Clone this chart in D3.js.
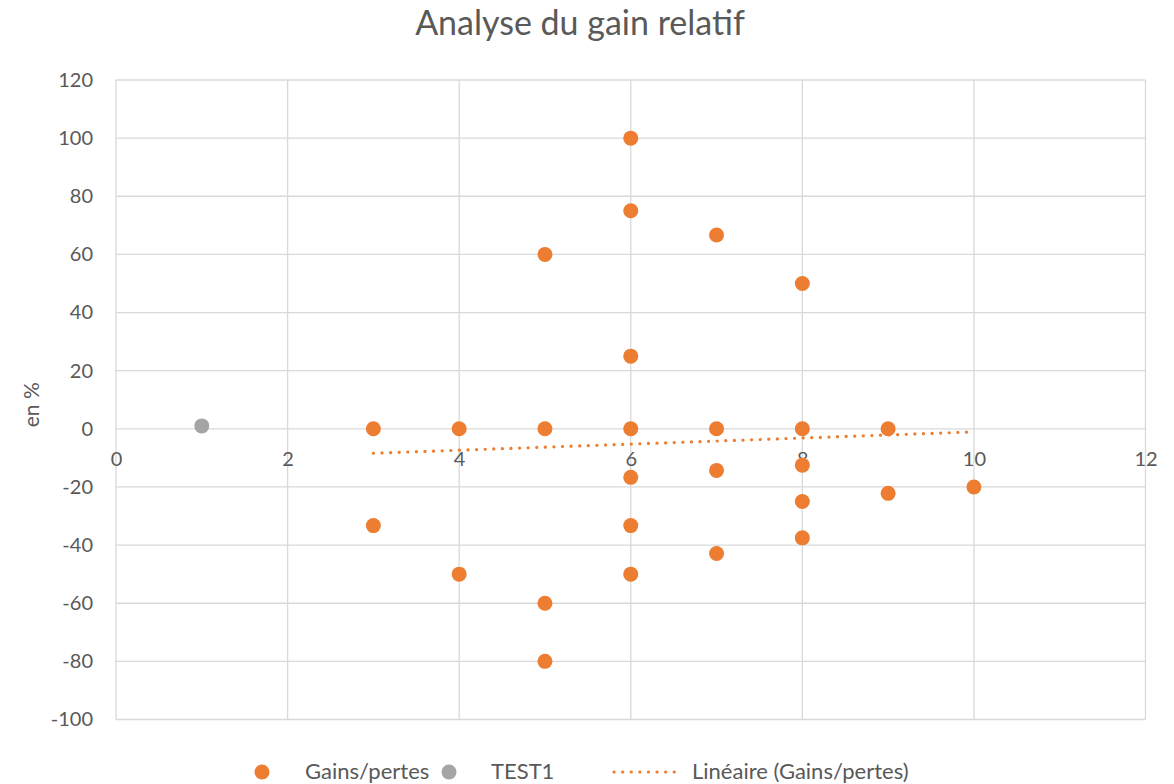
<!DOCTYPE html>
<html><head><meta charset="utf-8">
<script src="https://cdn.jsdelivr.net/npm/d3@7"></script>
<style>body{margin:0;background:#fff;} text{font-family:Lato,"Open Sans",sans-serif;}</style>
</head><body><svg id="c" width="1174" height="784"></svg>
<script>
const title = "Analyse du gain relatif";
const yLabel = "en %";
const gainsX = [3,3,4,4,5,5,5,5,6,6,6,6,6,6,6,7,7,7,7,8,8,8,8,8,9,9,10];
const gainsY = [0,-33.3,0,-50,60,0,-60,-80,100,75,25,0,-16.7,-33.3,-50,66.7,0,-14.3,-42.9,50,0,-12.5,-25,-37.5,0,-22.2,-20];
const testX = [1];
const testY = [1];
const trendX = [3, 10];
const trendY = [-8.4, -1.05];
const xTicks = [0,2,4,6,8,10,12];
const yTicks = [-100,-80,-60,-40,-20,0,20,40,60,80,100,120];
const legendLabels = ["Gains/pertes","TEST1","Linéaire (Gains/pertes)"];

const svg = d3.select("#c");
const L=116, R=1145.5, T=80, B=719.5;
const x = d3.scaleLinear().domain([0,12]).range([L,R]);
const y = d3.scaleLinear().domain([-100,120]).range([B,T]);
const grid="#d9d9d9", txt="#595959", orange="#ed7d31", gray="#a5a5a5";
const ff = "Lato,'Open Sans',sans-serif";

// gridlines
svg.append("g").selectAll("line").data(yTicks).join("line")
  .attr("x1",L).attr("x2",R).attr("y1",d=>y(d)).attr("y2",d=>y(d))
  .attr("stroke",grid).attr("stroke-width",1.3);
svg.append("g").selectAll("line").data(xTicks).join("line")
  .attr("x1",d=>x(d)).attr("x2",d=>x(d)).attr("y1",T).attr("y2",B)
  .attr("stroke",grid).attr("stroke-width",1.3);

// y tick labels
const yAxis = d3.axisLeft(y).tickValues(yTicks).tickSize(0).tickPadding(23).tickFormat(d=>String(d));
const gy = svg.append("g").attr("transform",`translate(${L},0)`).call(yAxis);
gy.select(".domain").remove();
gy.selectAll("text").attr("fill",txt).style("font-size","20px").style("font-family",ff);

// x tick labels (at y=0 line)
const xAxis = d3.axisBottom(x).tickValues(xTicks).tickSize(0).tickPadding(23).tickFormat(d=>String(d));
const gx = svg.append("g").attr("transform",`translate(0,${y(0)})`).call(xAxis);
gx.select(".domain").remove();
gx.selectAll("text").attr("fill",txt).style("font-size","20px").style("font-family",ff);

// trendline
svg.append("path").datum(trendX.map((d,i)=>[d,trendY[i]]))
  .attr("d",d3.line().x(d=>x(d[0])).y(d=>y(d[1])))
  .attr("fill","none").attr("stroke",orange).attr("stroke-width",3.2)
  .attr("stroke-dasharray","0.1 8.5").attr("stroke-linecap","round");

// points
svg.append("g").selectAll("circle").data(gainsX.map((d,i)=>[d,gainsY[i]])).join("circle")
  .attr("cx",d=>x(d[0])).attr("cy",d=>y(d[1])).attr("r",7.5).attr("fill",orange);
svg.append("g").selectAll("circle").data(testX.map((d,i)=>[d,testY[i]])).join("circle")
  .attr("cx",d=>x(d[0])).attr("cy",d=>y(d[1])).attr("r",7.5).attr("fill",gray);

// title
svg.append("text").attr("x",580).attr("y",35).attr("text-anchor","middle")
  .attr("fill",txt).style("font-size","34px").text(title);

// y label
svg.append("text").attr("transform",`translate(39,${(T+B)/2+5}) rotate(-90)`)
  .attr("text-anchor","middle").attr("fill",txt).style("font-size","21px").text(yLabel);

// legend
const ly = 772;
svg.append("circle").attr("cx",262).attr("cy",ly).attr("r",7.5).attr("fill",orange);
svg.append("text").attr("x",305).attr("y",ly+7).attr("fill",txt).style("font-size","22px").text(legendLabels[0]);
svg.append("circle").attr("cx",449).attr("cy",ly).attr("r",7.5).attr("fill",gray);
svg.append("text").attr("x",491).attr("y",ly+7).attr("fill",txt).style("font-size","22px").text(legendLabels[1]);
svg.append("line").attr("x1",614).attr("x2",682).attr("y1",ly).attr("y2",ly)
  .attr("stroke",orange).attr("stroke-width",3.2).attr("stroke-dasharray","0.1 8.5").attr("stroke-linecap","round");
svg.append("text").attr("x",692).attr("y",ly+7).attr("fill",txt).style("font-size","22px").text(legendLabels[2]);
</script></body></html>
